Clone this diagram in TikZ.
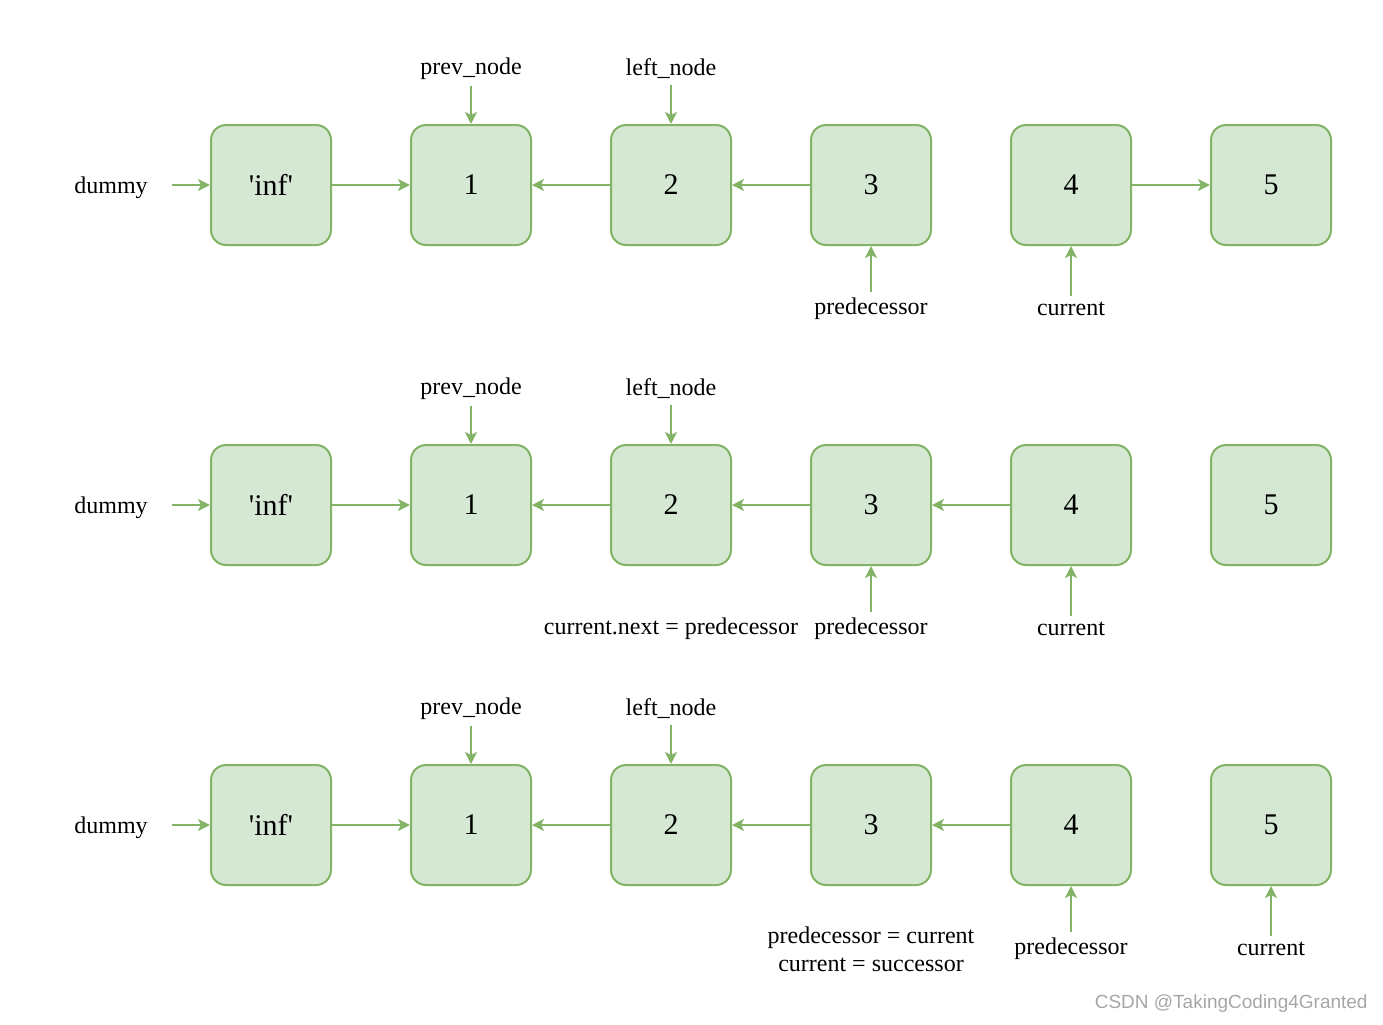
\documentclass[tikz,border=0pt]{standalone}
\usepackage{fontspec}
\setmainfont{Liberation Serif}
\newfontfamily\marksans{Liberation Sans}
\usetikzlibrary{arrows.meta, positioning}
\definecolor{nodegreen}{HTML}{D5E8D4}
\definecolor{edgegreen}{HTML}{82B366}

\begin{document}
\begin{tikzpicture}[x=0.5pt, y=-0.5pt,
  listnode/.style={rectangle, draw=edgegreen, fill=nodegreen, line width=1pt, rounded corners=7.5pt, minimum width=60pt, minimum height=60pt, font=\fontsize{15}{18}\selectfont},
  pointer/.style={inner sep=3pt, align=center, font=\fontsize{12}{14}\selectfont},
  headlabel/.style={pointer, inner xsep=12pt},
  arrow/.style={-{Stealth[length=6pt, width=6pt, inset=1.5pt]}, draw=edgegreen, line width=1pt}
]
  \useasboundingbox (0,0) rectangle (1383,1024);

  % Row 1
  \node[headlabel] (dummyA) at (111,188) {dummy};
  \node[listnode] (a0) at (271,185) {\textquotesingle inf\textquotesingle};
  \node[listnode] (a1) at (471,185) {1};
  \node[listnode] (a2) at (671,185) {2};
  \node[listnode] (a3) at (871,185) {3};
  \node[listnode] (a4) at (1071,185) {4};
  \node[listnode] (a5) at (1271,185) {5};
  \node[pointer] (prevA) at (471,69) {prev\_node};
  \node[pointer] (leftA) at (671,69) {left\_node};
  \node[pointer] (predA) at (871,309) {predecessor};
  \node[pointer] (curA) at (1071,309) {current};

  \draw[arrow] (dummyA.east |- a0) -- (a0);
  \draw[arrow] (a0) -- (a1);
  \draw[arrow] (a2) -- (a1);
  \draw[arrow] (a3) -- (a2);
  \draw[arrow] (a4) -- (a5);
  \draw[arrow] (prevA) -- (a1);
  \draw[arrow] (leftA) -- (a2);
  \draw[arrow] (predA) -- (a3);
  \draw[arrow] (curA) -- (a4);

  % Row 2
  \node[headlabel] (dummyB) at (111,508) {dummy};
  \node[listnode] (b0) at (271,505) {\textquotesingle inf\textquotesingle};
  \node[listnode] (b1) at (471,505) {1};
  \node[listnode] (b2) at (671,505) {2};
  \node[listnode] (b3) at (871,505) {3};
  \node[listnode] (b4) at (1071,505) {4};
  \node[listnode] (b5) at (1271,505) {5};
  \node[pointer] (prevB) at (471,389) {prev\_node};
  \node[pointer] (leftB) at (671,389) {left\_node};
  \node[pointer] (stepB) at (671,629) {current.next = predecessor};
  \node[pointer] (predB) at (871,629) {predecessor};
  \node[pointer] (curB) at (1071,629) {current};

  \draw[arrow] (dummyB.east |- b0) -- (b0);
  \draw[arrow] (b0) -- (b1);
  \draw[arrow] (b2) -- (b1);
  \draw[arrow] (b3) -- (b2);
  \draw[arrow] (b4) -- (b3);
  \draw[arrow] (prevB) -- (b1);
  \draw[arrow] (leftB) -- (b2);
  \draw[arrow] (predB) -- (b3);
  \draw[arrow] (curB) -- (b4);

  % Row 3
  \node[headlabel] (dummyC) at (111,828) {dummy};
  \node[listnode] (c0) at (271,825) {\textquotesingle inf\textquotesingle};
  \node[listnode] (c1) at (471,825) {1};
  \node[listnode] (c2) at (671,825) {2};
  \node[listnode] (c3) at (871,825) {3};
  \node[listnode] (c4) at (1071,825) {4};
  \node[listnode] (c5) at (1271,825) {5};
  \node[pointer] (prevC) at (471,709) {prev\_node};
  \node[pointer] (leftC) at (671,709) {left\_node};
  \node[pointer] (stepC) at (871,949) {predecessor = current\\current = successor};
  \node[pointer] (predC) at (1071,949) {predecessor};
  \node[pointer] (curC) at (1271,949) {current};

  \draw[arrow] (dummyC.east |- c0) -- (c0);
  \draw[arrow] (c0) -- (c1);
  \draw[arrow] (c2) -- (c1);
  \draw[arrow] (c3) -- (c2);
  \draw[arrow] (c4) -- (c3);
  \draw[arrow] (prevC) -- (c1);
  \draw[arrow] (leftC) -- (c2);
  \draw[arrow] (predC) -- (c4);
  \draw[arrow] (curC) -- (c5);

  % Watermark
  \node[anchor=east, inner sep=0pt, text=gray!70, font=\marksans\fontsize{9.5}{11}\selectfont] (mark) at (1368,1004) {CSDN @TakingCoding4Granted};
\end{tikzpicture}
\end{document}
